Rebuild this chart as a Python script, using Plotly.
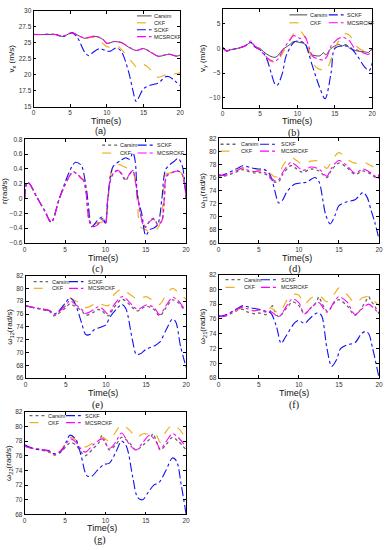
import plotly.graph_objects as go

# ---------------- data ----------------
NAMES = ["Carsim", "CKF", "SCKF", "MCSRCKF"]

# (a) vx (m/s)
a_t_ref = [0,1,2,3,4,5,5.5,6,7,7.5,8.5,9.5,10,11,12,13,14,15,16,17,18,18.5,19.5,20]
a_carsim = [26.3,26.3,26.3,26.3,26.0,26.5,26.5,26.2,25.7,25.8,26.0,25.5,24.9,25.2,25.0,24.3,23.8,24.1,23.5,22.9,23.1,23.2,22.9,23.1]
a_mcsrckf = [26.35,26.3,26.35,26.3,26.05,26.55,26.5,26.2,25.75,25.85,26.05,25.5,24.95,25.2,25.05,24.35,23.8,24.1,23.55,22.9,23.15,23.25,22.95,23.1]
a_t_ckf = [0,1,2,3,4,5,6,7,8,9,10,11,11.5,12.5,13.5,14.2,15,15.5,16.5,17,18,19,20]
a_ckf = [26.3,26.3,26.3,26.3,26.0,26.5,26.2,25.7,25.9,25.3,24.4,24.3,24.45,23.3,21.9,21.1,21.6,21.3,20.1,19.6,20.0,20.1,20.3]
a_t_sckf = [0,1,2,3,4,5,5.3,6,7,7.5,8,9,10,10.5,11.3,12,13,13.5,14,14.5,15,16,17,18,18.5,19,20]
a_sckf = [26.3,26.3,26.35,26.3,26.0,26.5,26.6,25.8,23.5,23.0,23.4,24.1,23.7,23.7,24.2,23.6,20.3,17.8,15.8,16.8,17.8,18.4,18.7,19.7,19.7,19.3,18.3]

# (b) vy (m/s)
b_t_carsim = [0,0.5,1,2,3,3.8,4.3,5,5.5,6.3,7,7.5,8,9,9.5,10,11,11.5,12,13,13.5,13.8,14.5,15.5,16,16.5,17,18,19,19.5,20]
b_carsim = [0.2,-0.5,-0.3,0,0.5,1.2,0.4,0,-0.7,-1.5,-1.8,-1.3,-0.3,0.8,1.4,1.3,0.9,-0.5,-1.3,-1.5,-0.9,-1.3,0,0.8,0.5,0.8,0,-0.5,-0.7,-0.8,0]
b_t_ckf = [0,0.5,1,2,3,3.8,4.3,5,5.5,6.3,7,7.5,8,9,9.5,10.2,11,11.5,12,12.5,13.5,14,15,16,16.5,17,18,19,20]
b_ckf = [0.2,-0.5,-0.3,0,0.5,1.3,0.4,-0.2,-1.2,-2.5,-2.8,-2.3,-1.0,1.5,3.0,3.7,2.3,0.0,-2.5,-3.8,-4.4,-4.0,0.0,2.5,3.0,2.6,0.3,-0.5,0.0]
b_t_sckf = [0,0.5,1,2,3,3.8,4.3,5,5.5,6,6.5,7,7.3,8,8.5,9.5,10,11,11.5,12,13,13.7,14.5,15,16,17,18,19,19.6,20]
b_sckf = [0.2,-0.5,-0.3,0,0.5,1.2,0.3,-0.3,-1.0,-2.5,-5.0,-7.2,-7.5,-5.0,-1.5,1.2,1.5,1.0,-1.0,-3.5,-8.0,-10.2,-5.0,0.0,0.5,0.3,-1.5,-3.8,-4.5,-3.0]
b_t_mcs = [0,0.5,1,2,3,3.8,4.3,5,5.5,6.3,7,7.5,8,9,9.5,10,10.5,11,11.5,12,12.5,13.5,14,14.5,15.5,16,16.5,17,17.5,18,19,19.5,20]
b_mcs = [0.2,-0.5,-0.3,0,0.5,1.5,0.5,-0.3,-1.2,-2.3,-2.6,-2.0,-0.5,1.8,2.6,2.3,2.0,2.4,0.5,-1.5,-2.0,-2.3,-1.5,0.5,2.0,2.3,2.0,1.5,0.3,-0.3,-1.0,-1.2,-0.4]

# (c) r (rad/s)
c_t = [0,0.3,0.6,1.5,2.5,3.3,4.3,5.3,6,6.5,7,7.3,7.6,8,8.5,9,9.6,10,10.3,10.8,11.5,12,12.5,13,13.4,13.8,14.2,14.7,15,15.5,16,16.5,17,17.3,17.6,18.5,19,19.5,20]
c_carsim = [0,0.22,0.2,0.02,-0.17,-0.32,0,0.25,0.36,0.33,0.28,0.25,0.1,-0.3,-0.38,-0.35,-0.27,-0.33,0,0.3,0.38,0.33,0.24,0.33,0.37,0.2,-0.1,-0.35,-0.38,-0.3,-0.27,-0.35,-0.3,0,0.3,0.36,0.37,0.33,0]
c_mcs = [0,0.22,0.2,0.02,-0.17,-0.32,0,0.25,0.36,0.33,0.27,0.24,0.08,-0.3,-0.38,-0.36,-0.29,-0.34,0,0.31,0.38,0.34,0.26,0.33,0.38,0.18,-0.12,-0.36,-0.39,-0.31,-0.28,-0.36,-0.3,0,0.31,0.36,0.37,0.33,0]
c_t_ckf = [0,0.3,0.6,1.5,2.5,3.3,4.3,5.3,6,6.5,7,7.5,7.8,8.2,8.6,9,9.6,10,10.3,10.6,11,11.5,12.5,13.3,13.6,14,14.3,15,15.5,16.5,17,17.2,17.5,18.5,19,19.5,20]
c_ckf = [0,0.22,0.2,0.02,-0.17,-0.32,0,0.27,0.35,0.33,0.28,0.24,0.0,-0.3,-0.35,-0.33,-0.32,-0.3,-0.1,0.3,0.42,0.46,0.42,0.38,0.3,-0.1,-0.38,-0.42,-0.45,-0.4,-0.2,0.1,0.33,0.35,0.37,0.33,0]
c_t_sckf = [0,0.3,0.6,1.5,2.5,3.3,4.3,5.3,6,6.3,7,7.3,7.8,8.3,9,9.6,10,10.3,10.7,11,12,12.5,13,13.4,13.7,14,14.5,15,15.5,16,16.5,17,17.5,18.5,19,19.5,20]
c_sckf = [0,0.22,0.2,0.02,-0.17,-0.32,0,0.3,0.46,0.49,0.45,0.35,0.0,-0.38,-0.3,-0.25,-0.33,0,0.35,0.44,0.52,0.55,0.53,0.62,0.5,0.0,-0.2,-0.5,-0.42,-0.4,-0.35,0.0,0.4,0.5,0.54,0.45,0]

# (d) omega11 (rad/s)
d_t = [0,0.5,1.5,2.5,3,3.5,4.5,5,6,7,7.5,8,9,9.5,10.5,11.5,12.5,13.5,14,15,16,17,18,19,19.8,20]
d_carsim = [76.5,76.2,76.5,77.0,77.2,77.0,76.7,76.8,76.4,75.3,75.4,76.5,77.8,77.5,76.8,77.3,77.0,76.0,77.0,78.2,77.5,76.5,77.0,76.5,75.8,76.3]
d_mcs = [76.5,76.3,76.6,77.2,77.5,77.2,76.9,77.0,76.6,75.5,75.7,76.8,78.3,78.0,77.1,77.6,77.3,76.2,77.3,78.6,77.8,76.7,77.3,76.7,76.0,76.5]
d_ckf = [76.5,76.3,76.6,77.2,77.4,77.2,76.9,77.1,77.0,76.1,76.2,77.8,79.1,78.8,78.0,78.5,78.5,77.4,78.3,79.8,78.8,78.2,78.4,77.8,77.3,77.4]
d_t_sckf = [0,1,2,2.5,3,4,5,5.5,6,6.5,7,7.5,8,8.5,9.5,10.5,11,12,12.5,13,13.3,13.9,14.5,15,16,17,18,18.5,19,19.5,20]
d_sckf = [76.2,76.6,77.2,77.5,77.8,77.5,77.3,77.3,77.0,76.2,74.0,72.1,72.6,73.8,75.0,75.2,75.3,76.0,75.4,72.5,70.5,68.9,70.2,71.7,72.3,72.6,73.7,73.0,71.0,69.0,66.5]

# (e) omega12 (rad/s)
e_t = [0,1,2,3,3.5,4,5,5.5,6,7,7.5,8.5,9,9.5,10.3,11,12,12.5,13.5,14,15,16,16.7,17.5,18.3,19,19.7,20]
e_carsim = [77.3,77.0,76.7,76.4,75.7,76.0,77.0,77.6,77.3,76.5,75.8,76.3,76.7,76.5,75.7,77.0,78.3,78.0,76.8,76.5,77.2,76.7,75.7,77.0,78.2,77.8,76.8,76.6]
e_mcs = [77.3,77.0,76.8,76.5,75.9,76.2,77.3,78.1,77.7,76.7,76.1,76.7,77.1,76.9,76.0,77.4,78.7,78.4,77.1,76.7,77.4,77.0,75.9,77.3,78.6,78.1,77.0,76.8]
e_ckf = [77.3,77.0,76.8,76.5,75.9,76.2,77.6,78.5,78.2,77.5,77.0,77.5,77.8,77.5,77.3,79.0,79.9,79.5,78.6,78.3,78.7,78.0,77.5,79.0,80.0,79.4,78.6,78.3]
e_t_sckf = [0,1,2,3,3.5,4,5,5.5,6,6.5,7,7.5,8,8.5,9.5,10,10.5,11.5,12,12.5,13.3,13.8,14.3,15,16,16.7,17.5,18.3,18.7,19.3,20]
e_sckf = [77.3,77.0,76.8,76.5,76.0,76.3,77.8,78.5,78.0,76.5,74.5,72.8,72.8,73.5,74.0,74.3,75.5,77.0,77.5,76.8,72.0,69.7,69.8,70.5,71.0,71.6,73.5,75.2,74.8,71.0,67.7]

# (f) omega21 (rad/s)
f_t_carsim = [0,0.5,1.5,2.5,3,3.5,4.5,5,6,6.4,6.7,7.0,7.5,8.5,9.2,10,10.7,11.5,12.2,12.5,12.8,13.2,13.6,14.5,15,16,17,18,18.4,18.7,19.0,19.3,20]
f_carsim = [76.5,76.3,76.7,77.2,77.3,77.0,76.7,76.8,76.6,77.0,77.8,77.0,76.3,77.5,78.3,77.8,76.7,77.5,78.3,79.0,78.3,77.5,77.0,78.3,78.6,77.8,76.5,77.8,78.5,79.0,78.4,78.0,76.7]
f_t = [0,0.5,1.5,2.5,3,3.5,4.5,5,6,6.5,7.5,8.5,9.2,10,10.7,11.5,12.5,13.5,14.5,15,16,17,18,18.7,19.3,20]
f_mcs = [76.5,76.3,76.8,77.4,77.6,77.4,77.1,77.2,76.9,77.0,76.3,77.8,78.7,78.2,76.7,77.5,78.2,76.9,78.5,79.0,78.3,76.6,77.5,78.0,77.5,76.7]
f_ckf = [76.5,76.3,76.8,77.3,77.5,77.3,77.1,77.3,77.2,77.5,76.8,78.5,79.3,79.2,78.0,78.8,79.2,78.3,79.5,80.2,79.3,78.2,78.9,79.0,78.5,77.8]
f_t_sckf = [0,1,2,2.5,3,4,5,6,6.5,7.2,7.8,8.3,9.5,10,10.7,11.5,12.3,12.8,13.5,14.1,14.7,15.2,16,17,17.8,18.3,18.7,19.2,20]
f_sckf = [76.3,76.6,77.2,77.5,77.8,77.5,77.3,77.0,76.8,75.0,72.7,73.5,75.5,75.8,75.4,76.2,76.8,76.5,72.0,69.6,70.5,72.0,72.5,72.8,74.0,74.3,74.0,72.0,68.0]

# (g) omega22 (rad/s)
g_t_carsim = [0,1,2,3,3.7,4.5,5.3,5.7,6.3,7,7.5,8.5,9.2,9.6,10,10.5,11.3,12,12.8,13.8,14.7,15.5,15.9,16.3,16.8,17.5,18.3,19,20]
g_carsim = [77.3,77.0,76.8,76.5,76.1,76.5,77.5,77.8,77.5,76.5,76.0,77.0,77.8,78.8,77.8,76.8,77.5,78.5,78.0,76.8,77.5,78.3,79.0,78.0,76.8,77.5,78.5,78.0,76.8]
g_t = [0,1,2,3,3.7,4.5,5.3,5.7,6.3,7,7.5,8.5,9.6,10.5,11.3,12,13,13.8,14.7,15.5,16.3,16.8,17.5,18.3,19,20]
g_mcs = [77.3,77.0,76.9,76.6,76.2,76.7,77.9,78.3,77.9,76.9,76.5,77.5,78.3,77.0,77.9,79.1,77.5,76.8,77.9,78.8,77.9,76.9,77.9,79.0,78.5,77.2]
g_ckf = [77.3,77.0,76.9,76.6,76.2,76.8,78.0,78.5,78.2,77.5,77.2,77.8,78.5,78.0,79.3,80.2,79.5,78.5,79.0,78.9,78.8,77.8,79.3,80.2,79.8,78.3]
g_t_sckf = [0,1,2,3,3.5,4.5,5.2,5.6,6.3,7,7.7,8.3,9,9.8,10.5,11.3,12,12.6,13.4,14,14.6,15.3,16,16.6,17.5,18.3,18.8,19.4,20]
g_sckf = [77.5,77.0,76.8,76.7,76.3,76.6,78.0,78.8,78.3,76.0,73.3,73.2,74.0,74.8,75.0,76.5,78.0,77.3,73.0,70.3,70.0,71.0,72.0,72.3,74.0,75.7,75.3,72.0,68.0]

# ---------------- layout ----------------
W, H = 389, 550
def dx(p0, p1):
    return [p0 / W, p1 / W]
def dy(p0, p1):
    return [1 - p1 / H, 1 - p0 / H]

panels = [
    dict(key="a", box=(32, 181, 7, 104), yr=[15, 30], t0=15, dt=2.5, yt="v<sub>x</sub> (m/s)",
         data={"Carsim": (a_t_ref, a_carsim), "CKF": (a_t_ckf, a_ckf), "SCKF": (a_t_sckf, a_sckf), "MCSRCKF": (a_t_ref, a_mcsrckf)},
         leg={"Carsim": (0.705, 0.805, 0.81, 0.948), "CKF": (0.705, 0.805, 0.81, 0.876),
              "SCKF": (0.705, 0.805, 0.81, 0.804), "MCSRCKF": (0.705, 0.805, 0.81, 0.732)},
         xt=(106, 119), lab=(100, 129), labfont=dict(family="Liberation Sans", size=9)),
    dict(key="b", box=(224, 376, 5, 105), yr=[-12, 8], t0=0, dt=5, yt="v<sub>y</sub> (m/s)",
         data={"Carsim": (b_t_carsim, b_carsim), "CKF": (b_t_ckf, b_ckf), "SCKF": (b_t_sckf, b_sckf), "MCSRCKF": (b_t_mcs, b_mcs)},
         leg={"Carsim": (0.447, 0.566, 0.572, 0.94), "CKF": (0.447, 0.566, 0.572, 0.86),
              "SCKF": (0.71, 0.809, 0.816, 0.94), "MCSRCKF": (0.71, 0.809, 0.816, 0.86)},
         xt=(300, 119), lab=(297, 131), labfont=dict(family="Liberation Serif", size=10)),
    dict(key="c", box=(23, 187, 137, 242), yr=[-0.6, 0.8], t0=0, dt=0.2, yt="r(rad/s)",
         data={"Carsim": (c_t, c_carsim), "CKF": (c_t_ckf, c_ckf), "SCKF": (c_t_sckf, c_sckf), "MCSRCKF": (c_t, c_mcs)},
         leg={"Carsim": (0.48, 0.573, 0.58, 0.943), "CKF": (0.48, 0.573, 0.58, 0.867),
              "SCKF": (0.70, 0.805, 0.81, 0.943), "MCSRCKF": (0.70, 0.805, 0.81, 0.867)},
         xt=(103, 257), lab=(97, 268), labfont=dict(family="Liberation Serif", size=10)),
    dict(key="d", box=(220, 383, 136, 242), yr=[66, 82], t0=66, dt=2, yt="ω<sub>11</sub>(rad/s)",
         data={"Carsim": (d_t, d_carsim), "CKF": (d_t, d_ckf), "SCKF": (d_t_sckf, d_sckf), "MCSRCKF": (d_t, d_mcs)},
         leg={"Carsim": (0.012, 0.123, 0.13, 0.943), "CKF": (0.012, 0.123, 0.13, 0.877),
              "SCKF": (0.258, 0.368, 0.375, 0.943), "MCSRCKF": (0.258, 0.368, 0.375, 0.877)},
         xt=(300, 257), lab=(298, 268), labfont=dict(family="Liberation Serif", size=10)),
    dict(key="e", box=(24, 187, 275, 379), yr=[66, 82], t0=66, dt=2, yt="ω<sub>12</sub>(rad/s)",
         data={"Carsim": (e_t, e_carsim), "CKF": (e_t, e_ckf), "SCKF": (e_t_sckf, e_sckf), "MCSRCKF": (e_t, e_mcs)},
         leg={"Carsim": (0.05, 0.14, 0.15, 0.94), "CKF": (0.05, 0.14, 0.15, 0.875),
              "SCKF": (0.27, 0.36, 0.375, 0.94), "MCSRCKF": (0.27, 0.36, 0.375, 0.875)},
         xt=(103, 394), lab=(97, 406), labfont=dict(family="Liberation Serif", size=10)),
    dict(key="f", box=(220, 383, 274, 379), yr=[68, 82], t0=68, dt=2, yt="ω<sub>21</sub>(rad/s)",
         data={"Carsim": (f_t_carsim, f_carsim), "CKF": (f_t, f_ckf), "SCKF": (f_t_sckf, f_sckf), "MCSRCKF": (f_t, f_mcs)},
         leg={"Carsim": (0.043, 0.135, 0.148, 0.95), "CKF": (0.043, 0.135, 0.148, 0.876),
              "SCKF": (0.264, 0.368, 0.375, 0.95), "MCSRCKF": (0.264, 0.368, 0.375, 0.876)},
         xt=(297, 394), lab=(297, 406), labfont=dict(family="Liberation Serif", size=10)),
    dict(key="g", box=(23, 187, 413, 517), yr=[68, 82], t0=68, dt=2, yt="ω<sub>22</sub>(rad/s)",
         data={"Carsim": (g_t_carsim, g_carsim), "CKF": (g_t, g_ckf), "SCKF": (g_t_sckf, g_sckf), "MCSRCKF": (g_t, g_mcs)},
         leg={"Carsim": (0.03, 0.122, 0.134, 0.962), "CKF": (0.03, 0.122, 0.134, 0.894),
              "SCKF": (0.256, 0.348, 0.36, 0.962), "MCSRCKF": (0.256, 0.348, 0.36, 0.894)},
         xt=(102, 531), lab=(100, 543), labfont=dict(family="Liberation Serif", size=10)),
]

STYLE = {
    "CKF": dict(color="#EDB120", dash="dash", width=1.2),
    "SCKF": dict(color="#1010F0", dash="dashdot", width=1.1),
    "MCSRCKF": dict(color="#FF00FF", dash="dashdot", width=1.1),
}
def carsim_style(key):
    if key in ("a", "b"):
        return dict(color="#333333", dash="solid", width=0.9)
    return dict(color="#666666", dash="dot", width=1.3)

fig = go.Figure()
layout = dict(width=W, height=H, margin=dict(l=0, r=0, t=0, b=0),
              paper_bgcolor="white", plot_bgcolor="white", showlegend=False,
              font=dict(family="Liberation Sans", size=7, color="#222"))
shapes, annots = [], []
TICKFONT = dict(family="Liberation Sans", size=6.5, color="#333")

for i, p in enumerate(panels):
    n = i + 1
    xs = "x" if n == 1 else f"x{n}"
    ys = "y" if n == 1 else f"y{n}"
    x0, x1, y0, y1 = p["box"]
    for name in NAMES:
        t, v = p["data"][name]
        st = carsim_style(p["key"]) if name == "Carsim" else STYLE[name]
        fig.add_trace(go.Scatter(x=t, y=v, mode="lines", name=name, xaxis=xs, yaxis=ys,
                                 line=dict(shape="spline", smoothing=0.9, **st),
                                 showlegend=False, hoverinfo="skip"))
    axcommon = dict(showline=True, linecolor="black", linewidth=0.8, mirror="ticks",
                    ticks="inside", ticklen=3, tickwidth=0.6, tickcolor="black",
                    showgrid=False, zeroline=False, tickfont=TICKFONT)
    layout["xaxis" if n == 1 else f"xaxis{n}"] = dict(
        domain=dx(x0, x1), anchor=ys, range=[0, 20], tickmode="array",
        tickvals=[0, 5, 10, 15, 20], ticktext=["0", "5", "10", "15", "20"],
        **axcommon)
    yr = p["yr"]
    layout["yaxis" if n == 1 else f"yaxis{n}"] = dict(
        domain=dy(y0, y1), anchor=xs, range=yr, tick0=p["t0"], dtick=p["dt"],
        title=dict(text=p["yt"], font=dict(family="Liberation Sans", size=8, color="#111"), standoff=2),
        **axcommon)
    # legend keys
    xd = f"{xs} domain"
    yd = f"{ys} domain"
    for name in NAMES:
        lx0, lx1, tx, ly = p["leg"][name]
        st = carsim_style(p["key"]) if name == "Carsim" else STYLE[name]
        shapes.append(dict(type="line", xref=xd, yref=yd, x0=lx0, x1=lx1, y0=ly, y1=ly,
                           line=dict(color=st["color"], dash=st["dash"], width=st["width"])))
        annots.append(dict(xref=xd, yref=yd, x=tx, y=ly, text=name, showarrow=False,
                           xanchor="left", yanchor="middle",
                           font=dict(family="Liberation Sans", size=5.5, color="#222")))
    # x-axis title "Time(s)"
    tx_, ty_ = p["xt"]
    annots.append(dict(xref="paper", yref="paper", x=tx_ / W, y=1 - ty_ / H,
                       text="Time(s)", showarrow=False, xanchor="center", yanchor="middle",
                       font=dict(family="Liberation Sans", size=9, color="#111")))
    lx, lyp = p["lab"]
    annots.append(dict(xref="paper", yref="paper", x=lx / W, y=1 - lyp / H,
                       text=f"({p['key']})", showarrow=False, xanchor="center", yanchor="middle",
                       font=dict(color="#111", **p["labfont"])))

layout["shapes"] = shapes
layout["annotations"] = annots
fig.update_layout(**layout)
fig.write_html("out.html", config={"displayModeBar": False},
               post_script="document.body.style.margin='0';document.body.style.overflow='hidden';")
